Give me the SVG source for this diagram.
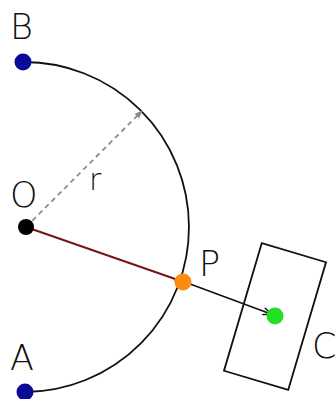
<svg xmlns="http://www.w3.org/2000/svg" width="335" height="399" viewBox="0 0 335 399">
<defs>
<style>
.lbl{font-family:"DejaVu Sans","Liberation Sans",sans-serif;font-weight:200;font-size:35px;fill:#111}
.sm{font-size:30px}
.arc{fill:none;stroke:#111;stroke-width:1.8}
.dot{stroke:none}
</style>
<marker id="ahRed" viewBox="0 0 10 10" refX="9" refY="5" markerWidth="7" markerHeight="7" markerUnits="userSpaceOnUse" orient="auto">
<path d="M0,1 L10,5 L0,9 z" fill="#a03030"/>
</marker>
<marker id="ahBlack" viewBox="0 0 10 10" refX="9" refY="5" markerWidth="9" markerHeight="9" markerUnits="userSpaceOnUse" orient="auto">
<path d="M0,1 L10,5 L0,9" fill="none" stroke="#111" stroke-width="1.6"/>
</marker>
<marker id="ahGray" viewBox="0 0 10 10" refX="9" refY="5" markerWidth="8" markerHeight="8" markerUnits="userSpaceOnUse" orient="auto">
<path d="M0,1 L10,5 L0,9 z" fill="#888"/>
</marker>
</defs>
<g id="circle-arc">
<path class="arc" d="M23,62 A165,165 0 0 1 25,392"/>
</g>
<g id="rect-C">
<rect x="-33.5" y="-66.5" width="67" height="133" transform="translate(275,316.5) rotate(16.5)" fill="none" stroke="#111" stroke-width="1.8"/>
</g>
<g id="connectors">
<line x1="26" y1="227" x2="142" y2="111" stroke="#8c8c8c" stroke-width="1.8" stroke-dasharray="5,4" marker-end="url(#ahGray)"/>
<line x1="26" y1="227" x2="181" y2="281" stroke="#7a1414" stroke-width="2" marker-end="url(#ahRed)"/>
<line x1="182" y1="281" x2="271" y2="314" stroke="#111" stroke-width="1.6" marker-end="url(#ahBlack)"/>
</g>
<g id="node-B"><circle class="dot" cx="23" cy="62" r="8.5" fill="#0a0a96"/><text class="lbl" x="10" y="39">B</text></g>
<g id="node-O"><circle class="dot" cx="26" cy="227" r="8" fill="#000"/><text class="lbl" x="10" y="207">O</text></g>
<g id="node-A"><circle class="dot" cx="25" cy="392" r="8.5" fill="#0a0a96"/><text class="lbl" x="10" y="370">A</text></g>
<g id="node-P"><circle class="dot" cx="183" cy="282" r="8.5" fill="#ff8a10"/><text class="lbl" x="199" y="276">P</text></g>
<g id="node-G"><circle class="dot" cx="275" cy="316" r="8.5" fill="#22e022"/></g>
<g id="label-C"><text class="lbl" x="312" y="358">C</text></g>
<g id="label-r"><text class="lbl sm" x="89" y="190">r</text></g>
</svg>
